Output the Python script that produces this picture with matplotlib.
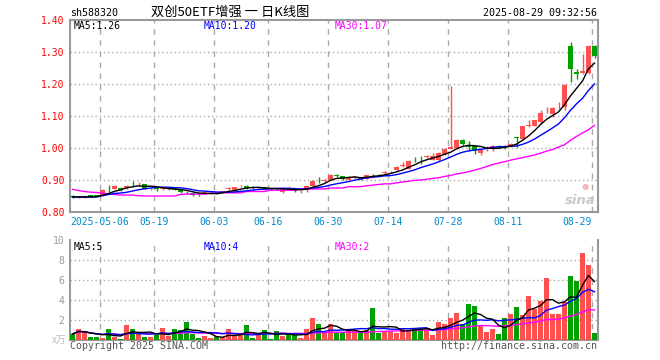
import matplotlib
matplotlib.use("Agg")
import matplotlib.pyplot as plt
import numpy as np
import pandas as pd

# ---------------- data ----------------
opens = [0.849,0.845,0.845,0.853,0.852,0.853,0.876,0.872,0.876,0.874,
         0.889,0.887,0.886,0.871,0.874,0.872,0.872,0.873,0.868,0.863,
         0.860,0.854,0.857,0.858,0.859,0.862,0.872,0.870,0.880,0.882,
         0.877,0.874,0.875,0.875,0.872,0.861,0.876,0.867,0.865,0.869,
         0.881,0.901,0.898,0.901,0.917,0.912,0.901,0.907,0.906,0.904,
         0.919,0.919,0.922,0.924,0.931,0.945,0.935,0.964,0.973,0.972,
         0.962,0.962,0.981,0.998,1.000,1.024,1.010,1.005,0.985,0.999,
         0.999,1.006,1.006,1.005,1.034,1.028,1.069,1.070,1.082,1.112,
         1.105,1.127,1.128,1.318,1.238,1.234,1.234,1.320]
highs = [0.852,0.849,0.849,0.854,0.853,0.871,0.885,0.883,0.879,0.884,
         0.896,0.893,0.887,0.876,0.878,0.876,0.875,0.874,0.870,0.867,
         0.861,0.857,0.865,0.861,0.861,0.867,0.877,0.878,0.885,0.884,
         0.882,0.878,0.877,0.876,0.874,0.871,0.879,0.870,0.870,0.882,
         0.899,0.910,0.903,0.918,0.919,0.914,0.911,0.914,0.909,0.917,
         0.920,0.919,0.927,0.928,0.943,0.956,0.961,0.973,0.974,0.977,
         0.983,0.986,1.000,1.195,1.027,1.027,1.023,1.007,0.997,1.006,
         1.009,1.009,1.008,1.015,1.035,1.070,1.088,1.088,1.120,1.128,
         1.128,1.143,1.199,1.330,1.247,1.295,1.321,1.321]
lows = [0.844,0.844,0.843,0.846,0.848,0.851,0.863,0.871,0.866,0.873,
        0.879,0.882,0.872,0.868,0.866,0.870,0.870,0.868,0.859,0.856,
        0.850,0.850,0.856,0.855,0.856,0.861,0.870,0.869,0.878,0.872,
        0.871,0.872,0.869,0.870,0.868,0.859,0.870,0.862,0.860,0.861,
        0.880,0.892,0.894,0.900,0.909,0.900,0.899,0.902,0.900,0.902,
        0.912,0.912,0.915,0.922,0.929,0.942,0.933,0.956,0.950,0.969,
        0.961,0.958,0.979,0.996,0.998,1.009,0.991,0.981,0.977,0.992,
        0.990,1.001,0.998,1.003,1.003,1.026,1.066,1.068,1.074,1.108,
        1.097,1.122,1.118,1.205,1.215,1.230,1.232,1.280]
closes = [0.847,0.847,0.847,0.847,0.850,0.870,0.874,0.882,0.869,0.882,
          0.887,0.889,0.873,0.873,0.872,0.874,0.873,0.870,0.861,0.861,
          0.852,0.853,0.864,0.859,0.858,0.866,0.874,0.877,0.882,0.874,
          0.876,0.876,0.871,0.872,0.871,0.869,0.874,0.866,0.867,0.881,
          0.898,0.899,0.900,0.917,0.911,0.902,0.910,0.909,0.904,0.916,
          0.918,0.918,0.924,0.926,0.941,0.947,0.960,0.962,0.972,0.974,
          0.975,0.985,0.996,1.004,1.026,1.013,1.002,0.991,0.993,1.001,
          1.007,1.004,1.004,1.013,1.032,1.068,1.071,1.086,1.109,1.114,
          1.126,1.129,1.198,1.248,1.230,1.242,1.320,1.286]
ma30 = [0.871,0.867,0.864,0.862,0.861,0.858,0.857,0.855,0.853,0.853,
        0.853,0.851,0.850,0.850,0.850,0.850,0.850,0.850,0.855,0.856,
        0.856,0.856,0.856,0.859,0.860,0.860,0.860,0.860,0.860,0.864,
        0.864,0.864,0.864,0.868,0.868,0.868,0.868,0.868,0.872,0.872,
        0.872,0.872,0.872,0.875,0.875,0.875,0.879,0.879,0.879,0.882,
        0.884,0.886,0.888,0.888,0.891,0.894,0.896,0.899,0.900,0.902,
        0.905,0.907,0.911,0.914,0.919,0.922,0.926,0.931,0.936,0.942,
        0.948,0.953,0.957,0.962,0.966,0.970,0.974,0.978,0.984,0.990,
        0.995,1.003,1.010,1.024,1.036,1.047,1.057,1.071]
volumes = [0.6,1.1,0.8,0.3,0.3,0.2,1.1,0.3,0.1,1.5,
           1.1,0.8,0.3,0.3,0.5,1.2,0.4,1.1,1.0,1.8,
           0.6,0.2,0.4,0.2,0.3,0.3,1.1,0.4,0.5,1.5,
           0.2,0.6,1.0,0.1,0.9,0.4,0.6,0.5,0.2,1.1,
           2.2,1.6,0.8,1.6,0.7,0.7,1.0,1.0,0.7,1.0,
           3.2,0.7,0.9,0.9,0.7,1.2,1.0,1.2,1.2,1.2,
           0.5,1.8,1.6,2.2,2.7,1.6,3.6,3.4,1.5,0.8,
           1.1,0.6,2.2,2.6,3.3,2.5,4.4,3.1,3.9,6.2,
           2.6,2.6,3.8,6.4,5.9,8.7,7.5,0.7]
tick_idx = [5, 14, 24, 33, 43, 53, 63, 73, 87]
tick_labels = ["2025-05-06", "05-19", "06-03", "06-16", "06-30",
               "07-14", "07-28", "08-11", "08-29"]
price_ticks = [0.80, 0.90, 1.00, 1.10, 1.20, 1.30, 1.40]
vol_ticks = [2, 4, 6, 8, 10]

# ---------------- style ----------------
RED = "#ff5050"
GREEN = "#00a000"
GRID = "#aaaaaa"
SPINE = "#999999"
MONO = "DejaVu Sans Mono"
CJK = ["Noto Sans CJK SC", "DejaVu Sans"]

n = len(closes)
x = np.arange(n)
o = np.array(opens); h = np.array(highs); l = np.array(lows); c = np.array(closes)
up = c >= o
cols = np.where(up, RED, GREEN)

ma5 = pd.Series(c).rolling(5, min_periods=1).mean().values
ma10 = pd.Series(c).rolling(10, min_periods=1).mean().values
v = np.array(volumes)
vma5 = pd.Series(v).rolling(5, min_periods=1).mean().values
vma10 = pd.Series(v).rolling(10, min_periods=1).mean().values
vma30 = pd.Series(v).rolling(30, min_periods=1).mean().values

W, H = 660, 360
fig = plt.figure(figsize=(6.6, 3.6), dpi=100)
fig.patch.set_facecolor("white")

def fx(px): return px / W
def fy(py): return 1 - py / H

ax = fig.add_axes([fx(70), fy(212), fx(528), (212 - 20) / H])
axv = fig.add_axes([fx(70), fy(340), fx(528), (340 - 240) / H])

xmin, xmax = -0.417, n - 0.417
grid_x = [i - 0.42 for i in tick_idx]

for a in (ax, axv):
    a.set_xlim(xmin, xmax)
    a.set_facecolor("white")
    for s in a.spines.values():
        s.set_color(SPINE)
        s.set_linewidth(1.5)
    a.set_xticks([])
    a.tick_params(axis="y", length=0, pad=4)
    for gx in grid_x:
        a.axvline(gx, color=GRID, lw=1, ls=(0, (4, 4)), zorder=0)

# ---- price panel ----
ax.set_ylim(0.80, 1.40)
for py in price_ticks[1:-1]:
    ax.axhline(py, color=GRID, lw=1, ls=(0, (1, 2)), zorder=0)
ax.set_yticks(price_ticks)
ax.set_yticklabels([f"{t:.2f}" for t in price_ticks], color="#ff0000",
                   fontsize=7, family=MONO)

ax.vlines(x, l, h, colors=cols, lw=1, zorder=3)
body_lo = np.minimum(o, c)
body_h = np.maximum(np.abs(c - o), 0.0012)
ax.bar(x, body_h, bottom=body_lo, width=0.75, color=cols, lw=0, zorder=4)

ax.plot(x, ma30, color="#ff00ff", lw=1, zorder=5)
ax.plot(x, ma10, color="#0000ff", lw=1, zorder=5)
ax.plot(x, ma5, color="#000000", lw=1, zorder=5)

fig.text(fx(74), fy(26), "MA5:1.26", fontsize=7,
         family=MONO, color="black", va="center", ha="left")
fig.text(fx(204), fy(26), "MA10:1.20", fontsize=7,
         family=MONO, color="#0000ff", va="center", ha="left")
fig.text(fx(335), fy(26), "MA30:1.07", fontsize=7,
         family=MONO, color="#ff00ff", va="center", ha="left")

# sina watermark
fig.text(fx(596), fy(201), "sina", fontsize=9.5, fontweight="bold",
         style="italic", color="#c8c8c8", ha="right", va="center")
fig.text(fx(585), fy(186), "●", fontsize=6, color="#f4b8b8",
         ha="center", va="center", family="DejaVu Sans")

# date labels
for i, (gx, lab) in enumerate(zip(grid_x, tick_labels)):
    px = 70 + (gx - xmin) * 6
    ha = "right" if i == len(tick_labels) - 1 else "center"
    fig.text(fx(px), fy(222), lab, fontsize=7, family=MONO, color="#0088cc",
             ha=ha, va="center")

# ---- volume panel ----
axv.set_ylim(0, 10)
for vy in vol_ticks[:-1]:
    axv.axhline(vy, color=GRID, lw=1, ls=(0, (1, 2)), zorder=0)
axv.set_yticks(vol_ticks)
axv.set_yticklabels([str(t) for t in vol_ticks], color="#999999",
                    fontsize=7, family=MONO)
axv.spines["top"].set_visible(False)
axv.bar(x, v, width=0.8, color=cols, lw=0, zorder=3)
axv.plot(x, vma30, color="#ff00ff", lw=1, zorder=5)
axv.plot(x, vma10, color="#0000ff", lw=1, zorder=5)
axv.plot(x, vma5, color="#000000", lw=1, zorder=5)

fig.text(fx(74), fy(247), "MA5:5", fontsize=7, family=MONO, color="black",
         va="center", ha="left")
fig.text(fx(204), fy(247), "MA10:4", fontsize=7, family=MONO, color="#0000ff",
         va="center", ha="left")
fig.text(fx(335), fy(247), "MA30:2", fontsize=7, family=MONO, color="#ff00ff",
         va="center", ha="left")
fig.text(fx(66), fy(340), "x万", fontsize=7, family=CJK, color="#bbbbbb",
         va="center", ha="right")

# ---- header / footer ----
fig.text(fx(70), fy(13), "sh588320", fontsize=7.2, family=MONO, color="black",
         ha="left", va="center")
fig.text(fx(230), fy(12), "双创50ETF增强 一 日K线图", fontsize=9.5,
         family=CJK, color="black", ha="center", va="center")
fig.text(fx(597), fy(13), "2025-08-29 09:32:56", fontsize=7.2, family=MONO,
         color="black", ha="right", va="center")
fig.text(fx(70), fy(346), "Copyright 2025 SINA.COM", fontsize=7.2, family=MONO,
         color="#555555", ha="left", va="center")
fig.text(fx(597), fy(346), "http://finance.sina.com.cn", fontsize=7.2,
         family=MONO, color="#555555", ha="right", va="center")

fig.savefig("out.png", dpi=100, facecolor="white")
